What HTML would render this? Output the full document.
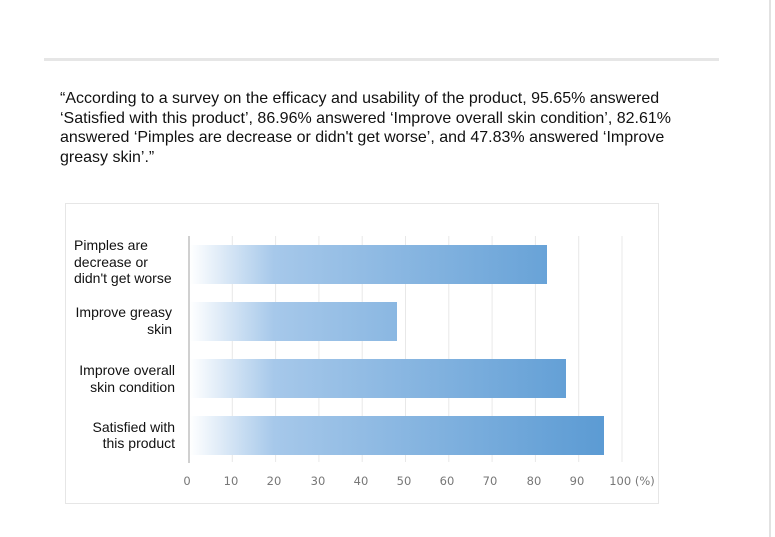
<!DOCTYPE html>
<html><head><style>
body{margin:0;width:775px;height:537px;background:#fff;position:relative;overflow:hidden;font-family:"Liberation Sans",Arial,sans-serif}
</style></head><body>
<div style="position:absolute;left:44px;top:58px;width:675px;height:3px;background:#e6e6e6"></div>
<div style="position:absolute;left:769px;top:0;width:2px;height:537px;background:#e2e2e2"></div>
<div style="position:absolute;left:60px;top:89px;width:618px;font-size:16px;line-height:19.5px;color:#111">“According to a survey on the efficacy and usability of the product, 95.65% answered ‘Satisfied with this product’, 86.96% answered ‘Improve overall skin condition’, 82.61% answered ‘Pimples are decrease or didn't get worse’, and 47.83% answered ‘Improve greasy skin’.”</div>
<svg style="position:absolute;left:0;top:0" width="775" height="537">
<defs>
<linearGradient id="g" gradientUnits="userSpaceOnUse" x1="190" x2="610" y1="0" y2="0">
<stop offset="0" stop-color="#ffffff"/>
<stop offset="0.2" stop-color="#a6c8ea"/>
<stop offset="1" stop-color="#5a9ad3"/>
</linearGradient>
</defs>
<rect x="65.5" y="203.5" width="593" height="300" fill="#fff" stroke="#e6e6e6"/>
<g stroke="#e8e8e8" stroke-width="1">
<line x1="232.3" y1="236" x2="232.3" y2="462"/><line x1="275.6" y1="236" x2="275.6" y2="462"/>
<line x1="318.9" y1="236" x2="318.9" y2="462"/><line x1="362.2" y1="236" x2="362.2" y2="462"/>
<line x1="405.5" y1="236" x2="405.5" y2="462"/><line x1="448.8" y1="236" x2="448.8" y2="462"/>
<line x1="492.1" y1="236" x2="492.1" y2="462"/><line x1="535.4" y1="236" x2="535.4" y2="462"/>
<line x1="578.7" y1="236" x2="578.7" y2="462"/><line x1="622" y1="236" x2="622" y2="462"/>
</g>
<rect x="190" y="245" width="357" height="39" fill="url(#g)"/>
<rect x="190" y="302" width="207" height="39" fill="url(#g)"/>
<rect x="190" y="359" width="376" height="39" fill="url(#g)"/>
<rect x="190" y="416" width="414" height="39" fill="url(#g)"/>
<line x1="189" y1="236" x2="189" y2="463" stroke="#d0d0d0" stroke-width="2"/>
<g font-family="Liberation Sans,sans-serif" font-size="14" fill="#111">
<text x="74" y="250">Pimples are</text>
<text x="74" y="267">decrease or</text>
<text x="74" y="283">didn't get worse</text>
<text x="172" y="317" text-anchor="end">Improve greasy</text>
<text x="172" y="334" text-anchor="end">skin</text>
<text x="175" y="375" text-anchor="end">Improve overall</text>
<text x="175" y="392" text-anchor="end">skin condition</text>
<text x="175" y="432" text-anchor="end">Satisfied with</text>
<text x="175" y="448" text-anchor="end">this product</text>
</g>
<g font-family="DejaVu Sans,sans-serif" font-size="11.5" fill="#777" text-anchor="middle">
<text x="187" y="485">0</text><text x="231" y="485">10</text><text x="274" y="485">20</text>
<text x="318" y="485">30</text><text x="361" y="485">40</text><text x="404" y="485">50</text>
<text x="447" y="485">60</text><text x="490" y="485">70</text><text x="534" y="485">80</text>
<text x="577" y="485">90</text><text x="632" y="485">100 (%)</text>
</g>
</svg>
</body></html>
